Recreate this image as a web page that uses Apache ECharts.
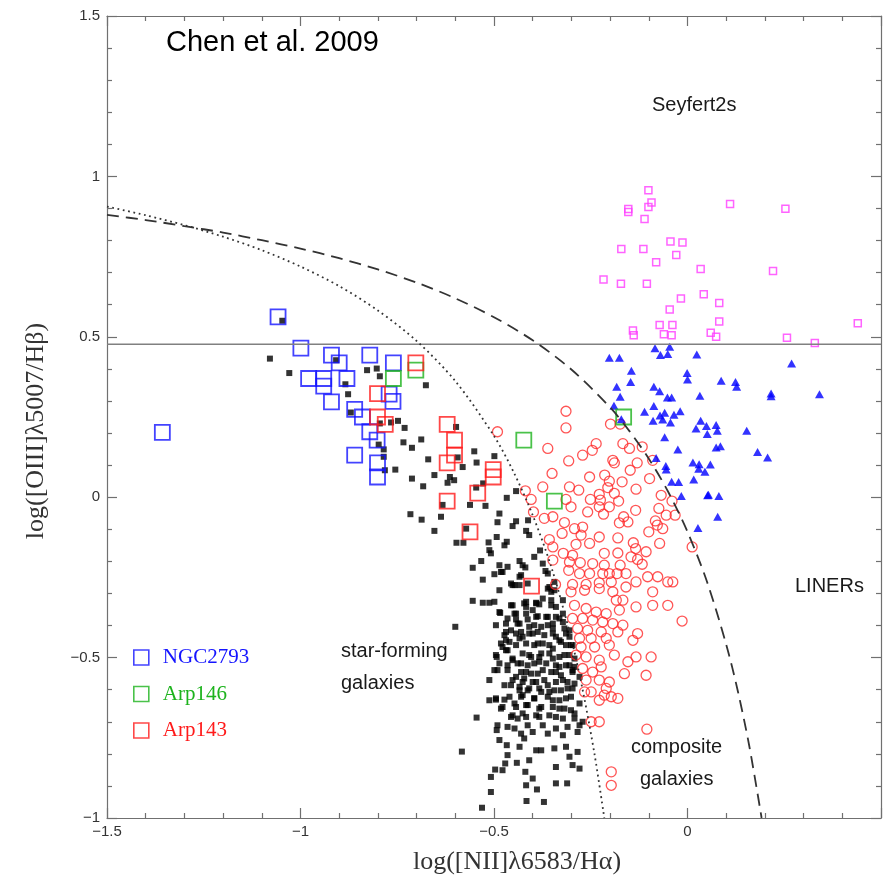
<!DOCTYPE html>
<html><head><meta charset="utf-8">
<script src="https://cdn.jsdelivr.net/npm/echarts@6/dist/echarts.min.js"></script>
<style>html,body{margin:0;padding:0;background:#fff}#c{width:883px;height:884px}</style>
</head><body><div id="c"></div>
<script>
// ---- axis ticks ----
const xTicks = [-1.5, -1, -0.5, 0, 0.5];
const yTicks = [-1, -0.5, 0, 0.5, 1, 1.5];

// ---- SDSS star-forming galaxies (black squares) ----
const starForming = [
[-1.047,0.550],[-1.079,0.432],[-1.029,0.387],[-0.908,0.427],[-0.828,0.396],[-0.803,0.401],[-0.795,0.377],[-0.884,0.352],[-0.877,0.321],[-0.870,0.264],[-0.676,0.349],[-0.795,0.230],[-0.766,0.233],[-0.748,0.238],[-0.731,0.216],[-0.688,0.180],[-0.734,0.171],[-0.712,0.154],[-0.798,0.164],[-0.785,0.149],[-0.785,0.126],[-0.670,0.118],[-0.782,0.084],[-0.755,0.086],[-0.654,0.069],[-0.712,0.058],[-0.683,0.034],
[-0.598,0.219],[-0.551,0.143],[-0.594,0.124],[-0.499,0.128],[-0.545,0.108],[-0.581,0.094],[-0.614,0.063],[-0.603,0.053],[-0.620,0.045],[-0.528,0.043],[-0.546,0.030],[-0.443,0.019],[-0.467,-0.002],[-0.562,-0.024],[-0.522,-0.027],[-0.633,-0.024],[-0.716,-0.053],[-0.637,-0.061],[-0.687,-0.070],[-0.486,-0.051],[-0.491,-0.078],[-0.443,-0.075],[-0.412,-0.072],[-0.654,-0.105],[-0.572,-0.098],[-0.452,-0.090],[-0.417,-0.105],[-0.597,-0.142],[-0.579,-0.142],[-0.514,-0.141],[-0.467,-0.139],[-0.381,-0.166],[-0.512,-0.165],
[-0.409,-0.118],[-0.493,-0.124],[-0.473,-0.150],[-0.508,-0.175],[-0.396,-0.186],[-0.533,-0.199],[-0.434,-0.199],[-0.426,-0.212],[-0.486,-0.212],[-0.465,-0.217],[-0.555,-0.220],[-0.419,-0.219],[-0.367,-0.230],[-0.482,-0.233],[-0.499,-0.240],[-0.434,-0.248],[-0.529,-0.257],[-0.452,-0.274],[-0.434,-0.274],[-0.361,-0.285],[-0.352,-0.295],[-0.486,-0.290],[-0.555,-0.323],[-0.529,-0.329],[-0.512,-0.329],[-0.391,-0.329],[-0.383,-0.334],[-0.352,-0.337],[-0.340,-0.342],[-0.452,-0.337],[-0.417,-0.342],[-0.443,-0.363],[-0.387,-0.371],[-0.365,-0.373],[-0.340,-0.373],[-0.322,-0.363],[-0.465,-0.378],[-0.413,-0.381],[-0.434,-0.394],[-0.361,-0.399],[-0.322,-0.389],[-0.495,-0.399],[-0.600,-0.404],[-0.456,-0.415],[-0.409,-0.425],[-0.387,-0.420],[-0.348,-0.425],[-0.314,-0.425],[-0.469,-0.446],[-0.434,-0.440],[-0.417,-0.456],[-0.374,-0.456],[-0.331,-0.446],[-0.478,-0.467],[-0.443,-0.461],[-0.396,-0.461],[-0.314,-0.461],
[-0.374,-0.316],[-0.322,-0.321],[-0.417,-0.326],[-0.400,-0.352],[-0.305,-0.415],[-0.297,-0.461],[-0.348,-0.472],[-0.396,-0.399],[-0.348,-0.409],
[-0.409,-0.492],[-0.383,-0.498],[-0.357,-0.487],[-0.331,-0.498],[-0.305,-0.492],[-0.430,-0.518],[-0.396,-0.518],[-0.365,-0.518],[-0.340,-0.524],[-0.314,-0.524],[-0.292,-0.529],[-0.417,-0.545],[-0.387,-0.550],[-0.352,-0.545],[-0.327,-0.555],[-0.297,-0.545],[-0.279,-0.560],[-0.426,-0.576],[-0.400,-0.576],[-0.370,-0.570],[-0.340,-0.576],[-0.310,-0.576],[-0.413,-0.602],[-0.383,-0.596],[-0.357,-0.607],[-0.327,-0.602],[-0.297,-0.596],[-0.430,-0.622],[-0.396,-0.627],[-0.348,-0.633],[-0.314,-0.627],[-0.279,-0.643],[-0.417,-0.648],[-0.378,-0.654],[-0.331,-0.659],[-0.301,-0.664],[-0.426,-0.674],[-0.391,-0.680],[-0.357,-0.680],[-0.322,-0.690],[-0.292,-0.690],[-0.271,-0.700],[-0.413,-0.711],[-0.374,-0.711],[-0.340,-0.721],[-0.310,-0.716],[-0.279,-0.711],[-0.430,-0.737],[-0.400,-0.732],[-0.361,-0.737],[-0.322,-0.742],[-0.284,-0.732],[-0.422,-0.752],[-0.391,-0.789],[-0.378,-0.789],[-0.344,-0.783],[-0.314,-0.778],[-0.284,-0.794],[-0.305,-0.809],[-0.340,-0.841],[-0.297,-0.835],[-0.279,-0.846],[-0.409,-0.820],[-0.400,-0.877],[-0.417,-0.898],[-0.340,-0.892],
[-0.499,-0.326],[-0.484,-0.361],[-0.443,-0.381],[-0.469,-0.420],[-0.430,-0.420],[-0.465,-0.477],[-0.493,-0.498],[-0.452,-0.508],[-0.465,-0.524],[-0.491,-0.539],[-0.512,-0.570],[-0.443,-0.560],[-0.456,-0.586],[-0.434,-0.602],[-0.512,-0.633],[-0.495,-0.631],[-0.473,-0.631],[-0.447,-0.643],[-0.482,-0.659],[-0.545,-0.687],[-0.456,-0.685],[-0.439,-0.690],[-0.491,-0.711],[-0.465,-0.716],[-0.493,-0.726],[-0.447,-0.721],[-0.486,-0.757],[-0.467,-0.773],[-0.434,-0.778],[-0.583,-0.793],[-0.465,-0.804],[-0.471,-0.830],[-0.441,-0.828],[-0.497,-0.849],[-0.478,-0.851],[-0.419,-0.856],[-0.508,-0.872],[-0.508,-0.919],[-0.531,-0.968],[-0.416,-0.947],[-0.389,-0.911],[-0.371,-0.950],[-0.311,-0.892],
[-0.374,-0.207],[-0.361,-0.238],[-0.344,-0.264],
[-0.478,-0.233],[-0.430,-0.243],[-0.447,-0.274],[-0.456,-0.269],[-0.413,-0.269],[-0.357,-0.280],[-0.344,-0.290],[-0.456,-0.337],[-0.422,-0.331],[-0.391,-0.331],[-0.352,-0.321],[-0.486,-0.358],[-0.447,-0.363],[-0.417,-0.363],[-0.391,-0.373],[-0.361,-0.373],[-0.331,-0.378],[-0.469,-0.394],[-0.439,-0.394],[-0.409,-0.404],[-0.378,-0.404],[-0.348,-0.394],[-0.318,-0.409],[-0.473,-0.430],[-0.443,-0.425],[-0.426,-0.435],[-0.400,-0.425],[-0.370,-0.430],[-0.340,-0.435],[-0.305,-0.435],[-0.482,-0.456],[-0.460,-0.451],[-0.387,-0.456],[-0.357,-0.461],[-0.327,-0.451],[-0.301,-0.461],[-0.495,-0.492],[-0.469,-0.477],[-0.452,-0.503],[-0.426,-0.487],[-0.404,-0.498],[-0.378,-0.487],[-0.348,-0.503],[-0.318,-0.492],[-0.292,-0.503],[-0.486,-0.518],[-0.439,-0.518],[-0.413,-0.524],[-0.383,-0.513],[-0.331,-0.529],[-0.305,-0.524],[-0.499,-0.539],[-0.465,-0.539],[-0.430,-0.545],[-0.404,-0.550],[-0.374,-0.539],[-0.340,-0.545],[-0.297,-0.539],[-0.452,-0.570],[-0.422,-0.565],[-0.391,-0.576],[-0.361,-0.586],[-0.322,-0.570],[-0.292,-0.581],[-0.473,-0.586],[-0.434,-0.591],[-0.409,-0.596],[-0.378,-0.607],[-0.344,-0.602],[-0.310,-0.596],[-0.495,-0.627],[-0.460,-0.622],[-0.426,-0.617],[-0.396,-0.627],[-0.361,-0.622],[-0.331,-0.633],[-0.301,-0.622],[-0.478,-0.654],[-0.443,-0.654],[-0.413,-0.648],[-0.383,-0.659],[-0.348,-0.654],[-0.318,-0.659],[-0.452,-0.680],[-0.417,-0.685],[-0.383,-0.685],[-0.340,-0.685],[-0.292,-0.674]
];

// ---- composite galaxies (red open circles) ----
const composite = [
[-0.491,0.204],[-0.419,0.020],[-0.404,-0.007],[-0.398,-0.046],
[-0.314,0.268],[-0.314,0.216],[-0.199,0.228],[-0.174,0.228],[-0.361,0.152],[-0.307,0.113],[-0.271,0.131],[-0.246,0.146],[-0.236,0.167],[-0.167,0.167],[-0.150,0.152],[-0.117,0.157],[-0.193,0.115],[-0.189,0.107],[-0.130,0.107],[-0.090,0.115],[-0.148,0.084],[-0.350,0.074],[-0.253,0.063],[-0.214,0.069],[-0.202,0.050],[-0.169,0.048],[-0.098,0.058],[-0.374,0.032],[-0.305,0.032],[-0.281,0.022],[-0.206,0.030],[-0.133,0.025],[-0.189,0.012],[-0.068,0.006],[-0.228,0.009],[-0.314,-0.007],[-0.251,-0.007],[-0.225,-0.009],[-0.178,-0.012],[-0.040,-0.012],[-0.370,-0.066],[-0.348,-0.061],[-0.301,-0.030],[-0.258,-0.046],[-0.228,-0.030],[-0.202,-0.030],[-0.134,-0.041],[-0.074,-0.035],[-0.217,-0.053],[-0.055,-0.056],[-0.032,-0.056],[-0.165,-0.061],[-0.154,-0.077],[-0.318,-0.079],[-0.292,-0.098],[-0.271,-0.093],[-0.176,-0.080],[-0.083,-0.074],[-0.078,-0.087],[-0.100,-0.108],[-0.064,-0.098],[-0.324,-0.113],[-0.275,-0.118],[-0.228,-0.124],[-0.180,-0.127],[-0.357,-0.132],[-0.348,-0.155],[-0.288,-0.147],[-0.253,-0.144],[-0.140,-0.142],[-0.134,-0.160],[-0.107,-0.170],[-0.072,-0.144],[0.012,-0.155],[-0.321,-0.175],[-0.297,-0.181],[-0.215,-0.175],[-0.180,-0.174],[-0.146,-0.186],[-0.129,-0.194],[-0.117,-0.209],[-0.348,-0.196],[-0.305,-0.202],[-0.277,-0.204],[-0.245,-0.207],[-0.215,-0.212],[-0.174,-0.212],[-0.219,-0.238],[-0.202,-0.238],[-0.182,-0.238],[-0.159,-0.238],[-0.253,-0.238],[-0.279,-0.238],[-0.307,-0.228],[-0.103,-0.248],[-0.077,-0.248],[-0.051,-0.264],[-0.038,-0.264],[-0.341,-0.272],[-0.297,-0.272],[-0.262,-0.272],[-0.228,-0.267],[-0.197,-0.264],[-0.133,-0.264],
[-0.301,-0.295],[-0.266,-0.290],[-0.228,-0.285],[-0.193,-0.295],[-0.159,-0.280],[-0.090,-0.295],[-0.090,-0.337],[-0.051,-0.337],[-0.014,-0.386],[-0.184,-0.321],[-0.167,-0.321],[-0.133,-0.342],[-0.292,-0.337],[-0.262,-0.347],[-0.236,-0.358],[-0.210,-0.363],[-0.176,-0.352],[-0.297,-0.378],[-0.271,-0.378],[-0.245,-0.383],[-0.219,-0.389],[-0.193,-0.394],[-0.167,-0.399],[-0.284,-0.409],[-0.258,-0.415],[-0.223,-0.420],[-0.180,-0.420],[-0.129,-0.425],[-0.279,-0.440],[-0.249,-0.440],[-0.210,-0.440],[-0.141,-0.446],[-0.275,-0.467],[-0.240,-0.467],[-0.202,-0.461],[-0.288,-0.492],[-0.262,-0.498],[-0.228,-0.508],[-0.189,-0.492],[-0.133,-0.498],[-0.094,-0.498],[-0.154,-0.513],[-0.271,-0.534],[-0.245,-0.545],[-0.223,-0.529],[-0.163,-0.550],[-0.107,-0.555],[-0.262,-0.570],[-0.228,-0.570],[-0.202,-0.576],[-0.266,-0.607],[-0.249,-0.607],[-0.210,-0.596],[-0.215,-0.617],[-0.197,-0.622],[-0.180,-0.627],[-0.228,-0.633],[-0.249,-0.700],[-0.228,-0.700],[-0.105,-0.723],[-0.197,-0.856],[-0.197,-0.898]
];

// ---- LINERs (blue filled triangles) ----
const liners = [
[-0.084,0.464],[-0.046,0.469],[-0.070,0.443],[-0.051,0.446],[0.024,0.445],[-0.202,0.435],[-0.176,0.435],[0.269,0.417],[-0.145,0.394],[-0.001,0.387],[0.000,0.367],[-0.147,0.359],[0.087,0.363],[0.124,0.359],[0.127,0.344],[-0.183,0.344],[-0.087,0.344],[-0.072,0.330],[0.216,0.323],[0.216,0.315],[0.341,0.321],[0.032,0.316],[-0.052,0.311],[-0.041,0.311],[-0.174,0.313],[-0.190,0.285],[-0.087,0.284],[-0.111,0.266],[-0.059,0.263],[-0.019,0.268],[-0.035,0.257],[-0.071,0.255],[-0.064,0.242],[-0.171,0.243],[-0.089,0.238],[-0.044,0.233],[0.034,0.238],[0.049,0.222],[0.074,0.225],[0.022,0.214],[0.077,0.207],[0.051,0.197],[0.153,0.207],[-0.059,0.187],[-0.025,0.149],[0.074,0.155],[0.085,0.159],[0.181,0.141],[0.207,0.124],[-0.081,0.122],[0.014,0.108],[0.030,0.103],[0.059,0.102],[-0.056,0.097],[-0.055,0.086],[0.029,0.089],[0.045,0.079],[0.016,0.055],[-0.041,0.048],[-0.023,0.047],[-0.016,0.004],[0.052,0.006],[0.081,0.004],[0.054,0.008],[0.027,-0.096],[0.078,-0.061]
];

// ---- Seyfert 2s (magenta small open squares) ----
const seyferts = [
[-0.101,0.957],[-0.093,0.919],[-0.101,0.905],[-0.153,0.898],[-0.153,0.889],[-0.111,0.867],[0.110,0.914],[0.253,0.899],[-0.044,0.797],[-0.013,0.794],[-0.171,0.774],[-0.114,0.774],[-0.029,0.755],[-0.081,0.732],[0.034,0.711],[0.221,0.705],[-0.217,0.679],[-0.172,0.665],[-0.105,0.665],[-0.017,0.619],[0.042,0.633],[0.082,0.605],[-0.046,0.585],[-0.072,0.537],[-0.039,0.537],[0.082,0.548],[0.440,0.542],[-0.141,0.520],[-0.139,0.505],[-0.061,0.508],[-0.041,0.505],[0.060,0.513],[0.074,0.500],[0.257,0.497],[0.329,0.481]
];

// ---- interacting-galaxy regions (large open squares) ----
const ngc2793 = [
[-1.058,0.562],[-0.999,0.465],[-0.920,0.443],[-0.900,0.419],[-0.821,0.443],[-0.760,0.419],[-0.979,0.370],[-0.940,0.370],[-0.940,0.346],[-0.880,0.370],[-0.920,0.297],[-0.860,0.274],[-0.840,0.250],[-0.761,0.299],[-0.821,0.204],[-0.802,0.178],[-0.860,0.131],[-0.801,0.107],[-0.801,0.063],[-1.357,0.202],[-0.771,0.321]
];
const arp146 = [
[-0.702,0.396],[-0.760,0.370],[-0.423,0.178],[-0.344,-0.012],[-0.165,0.250]
];
const arp143 = [
[-0.702,0.419],[-0.801,0.323],[-0.801,0.250],[-0.781,0.227],[-0.621,0.227],[-0.602,0.178],[-0.602,0.131],[-0.621,0.107],[-0.502,0.086],[-0.502,0.063],[-0.542,0.013],[-0.621,-0.012],[-0.562,-0.108],[-0.403,-0.277]
];

// ---- demarcation lines ----
const kewleyLine = [
[-1.5,0.880],[-1.4,0.864],[-1.3,0.845],[-1.2,0.825],[-1.1,0.801],[-1.0,0.775],[-0.9,0.745],[-0.8,0.710],[-0.7,0.669],[-0.6,0.620],[-0.5,0.561],[-0.4,0.489],[-0.3,0.398],[-0.2,0.280],[-0.15,0.206],[-0.1,0.120],[-0.05,0.017],[0,-0.108],[0.05,-0.262],[0.1,-0.459],[0.13,-0.604],[0.16,-0.778],[0.1915,-1.0]
];
const kauffmannLine = [
[-1.5,0.906],[-1.4,0.879],[-1.3,0.848],[-1.2,0.812],[-1.1,0.770],[-1.0,0.719],[-0.9,0.658],[-0.8,0.582],[-0.7,0.487],[-0.6,0.362],[-0.5,0.191],[-0.45,0.080],[-0.4,-0.056],[-0.35,-0.225],[-0.3,-0.443],[-0.27,-0.606],[-0.24,-0.803],[-0.215,-1.0]
];
const seyfertLinerDivide = [[-1.5,0.477],[0.5,0.477]];

const minus = v => (v < 0 ? '\u2212' : '') + Math.abs(v);
const axisCol = '#707070';
const sans = '"Liberation Sans", Arial, Helvetica, sans-serif';
const serif = '"Liberation Serif", "Times New Roman", serif';

function baseX(pos, labels){
  return {
    type:'value', min:xTicks[0], max:xTicks[xTicks.length-1], interval:0.5, position:pos,
    axisLine:{show:true, onZero:false, lineStyle:{color:axisCol, width:1.2}},
    axisTick:{show:true, inside:true, length:10, lineStyle:{color:axisCol, width:1.2}},
    minorTick:{show:true, splitNumber:5, length:5, lineStyle:{color:axisCol, width:1.2}},
    splitLine:{show:false}, minorSplitLine:{show:false},
    axisLabel:{show:labels, formatter:minus, margin:6, fontSize:15, color:'#333', fontFamily:sans, showMaxLabel:false}
  };
}
function baseY(pos, labels){
  return {
    type:'value', min:yTicks[0], max:yTicks[yTicks.length-1], interval:0.5, position:pos,
    axisLine:{show:true, onZero:false, lineStyle:{color:axisCol, width:1.2}},
    axisTick:{show:true, inside:true, length:10, lineStyle:{color:axisCol, width:1.2}},
    minorTick:{show:true, splitNumber:5, length:5, lineStyle:{color:axisCol, width:1.2}},
    splitLine:{show:false}, minorSplitLine:{show:false},
    axisLabel:{show:labels, formatter:minus, margin:7, fontSize:15, color:'#333', fontFamily:sans}
  };
}
const hollow = (col, w) => ({color:'rgba(0,0,0,0)', borderColor:col, borderWidth:w});

const chart = echarts.init(document.getElementById('c'), null, {renderer:'canvas'});
chart.setOption({
  animation:false,
  backgroundColor:'#ffffff',
  grid:{left:107, right:2, top:16, bottom:66, containLabel:false},
  xAxis:[baseX('bottom', true), baseX('top', false)],
  yAxis:[baseY('left', true), baseY('right', false)],
  legend:{
    orient:'vertical', left:133, top:647, itemWidth:15, itemHeight:15, itemGap:15.5, padding:0,
    textStyle:{fontFamily:serif, fontSize:21, padding:[0,0,0,9]},
    data:[
      {name:'NGC2793', icon:'rect', itemStyle:hollow('#1414ff',1.6), textStyle:{color:'#1414ff'}},
      {name:'Arp146', icon:'rect', itemStyle:hollow('#1db31d',1.6), textStyle:{color:'#1db31d'}},
      {name:'Arp143', icon:'rect', itemStyle:hollow('#ff1a1a',1.6), textStyle:{color:'#ff1a1a'}}
    ]
  },
  series:[
    {type:'scatter', name:'star-forming', data:starForming, symbol:'rect', symbolSize:6, itemStyle:{color:'#000'}, silent:true},
    {type:'scatter', name:'composite', data:composite, symbol:'circle', symbolSize:10, itemStyle:hollow('#ff2a2a',1.3), silent:true},
    {type:'scatter', name:'LINERs', data:liners, symbol:'triangle', symbolSize:[9,8], itemStyle:{color:'#0000ff'}, silent:true},
    {type:'scatter', name:'Seyfert2s', data:seyferts, symbol:'rect', symbolSize:7, itemStyle:hollow('#ff3cff',1.5), silent:true},
    {type:'line', name:'divide', data:seyfertLinerDivide, showSymbol:false, lineStyle:{color:'#808080', width:1.5}, silent:true},
    {type:'line', name:'Kewley', data:kewleyLine, showSymbol:false, smooth:0.3, lineStyle:{color:'#333', width:1.8, type:[12,7]}, silent:true},
    {type:'line', name:'Kauffmann', data:kauffmannLine, showSymbol:false, smooth:0.3, lineStyle:{color:'#333', width:1.8, type:[1.8,3.6]}, silent:true},
    {type:'scatter', name:'NGC2793', data:ngc2793, symbol:'rect', symbolSize:15, itemStyle:hollow('#1414ff',1.8), silent:true},
    {type:'scatter', name:'Arp146', data:arp146, symbol:'rect', symbolSize:15, itemStyle:hollow('#1db31d',1.8), silent:true},
    {type:'scatter', name:'Arp143', data:arp143, symbol:'rect', symbolSize:15, itemStyle:hollow('#ff1a1a',1.8), silent:true}
  ],
  graphic:[
    {type:'text', left:166, top:28, style:{text:'Chen et al. 2009', font:'29px '+sans, fill:'#000'}},
    {type:'text', left:652, top:95, style:{text:'Seyfert2s', font:'20px '+sans, fill:'#1a1a1a'}},
    {type:'text', left:795, top:576, style:{text:'LINERs', font:'20px '+sans, fill:'#1a1a1a'}},
    {type:'text', left:341, top:641, style:{text:'star-forming', font:'20px '+sans, fill:'#1a1a1a'}},
    {type:'text', left:341, top:673, style:{text:'galaxies', font:'20px '+sans, fill:'#1a1a1a'}},
    {type:'text', left:631, top:737, style:{text:'composite', font:'20px '+sans, fill:'#1a1a1a'}},
    {type:'text', left:640, top:769, style:{text:'galaxies', font:'20px '+sans, fill:'#1a1a1a'}},
    {type:'text', x:517, y:862, style:{text:'log([NII]\u03bb6583/H\u03b1)', font:'26px '+serif, fill:'#333', align:'center', verticalAlign:'middle'}},
    {type:'text', x:36, y:431, rotation:Math.PI/2, style:{text:'log([OIII]\u03bb5007/H\u03b2)', font:'26px '+serif, fill:'#333', align:'center', verticalAlign:'middle'}}
  ]
});
</script></body></html>
